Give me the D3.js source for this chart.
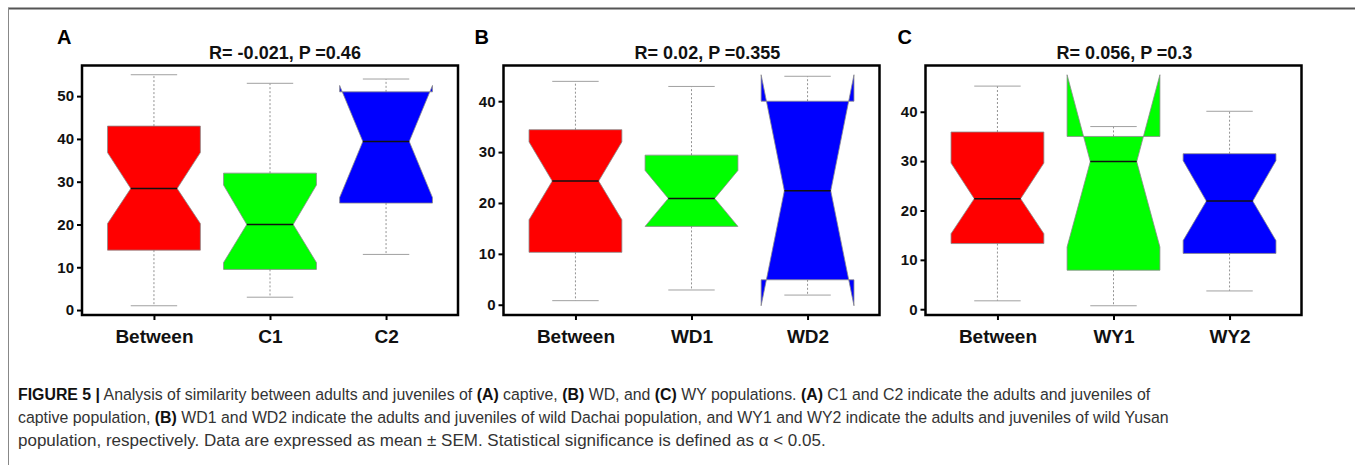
<!DOCTYPE html>
<html>
<head>
<meta charset="utf-8">
<script src="https://cdn.jsdelivr.net/npm/d3@7"></script>
<style>
  body { margin: 0; background: #fff; }
  svg { display: block; }
</style>
</head>
<body>
<div id="chart"></div>
<script>
"use strict";

// Box stats are [whisker low, Q1, median, Q3, whisker high], notches are [low, high]

// (A) captive
const catsA = ["Between", "C1", "C2"];
const boxA = [[1, 14, 28.4, 43, 55], [3, 9.5, 20, 32, 53], [13, 25, 39.4, 51, 54]];
const notchA = [[20.2, 36.8], [11.1, 29.2], [26.3, 52.5]];
const ticksA = [0, 10, 20, 30, 40, 50];

// (B) wild Dachai
const catsB = ["Between", "WD1", "WD2"];
const boxB = [[0.8, 10.3, 24.3, 34.4, 43.9], [2.9, 15.4, 20.9, 29.4, 42.9], [1.9, 4.9, 22.4, 40, 44.9]];
const notchB = [[16.7, 32], [15.4, 26.4], [-0.2, 45.2]];
const ticksB = [0, 10, 20, 30, 40];

// (C) wild Yusan
const catsC = ["Between", "WY1", "WY2"];
const boxC = [[1.7, 13.3, 22.4, 35.9, 45.2], [0.7, 7.9, 29.9, 35, 37], [3.7, 11.3, 21.9, 31.5, 40.1]];
const notchC = [[15.3, 29.6], [12.6, 47.5], [13.9, 30.1]];
const ticksC = [0, 10, 20, 30, 40];

const titles = ["R= -0.021, P =0.46", "R= 0.02, P =0.355", "R= 0.056, P =0.3"];
const letters = ["A", "B", "C"];
const fills = ["#ff0000", "#00ff00", "#0000ff"];

// caption lines, bold parts flagged
const captionLines = [
  [["FIGURE 5 |", true], [" Analysis of similarity between adults and juveniles of ", false], ["(A)", true],
   [" captive, ", false], ["(B)", true], [" WD, and ", false], ["(C)", true], [" WY populations. ", false],
   ["(A)", true], [" C1 and C2 indicate the adults and juveniles of", false]],
  [["captive population, ", false], ["(B)", true],
   [" WD1 and WD2 indicate the adults and juveniles of wild Dachai population, and WY1 and WY2 indicate the adults and juveniles of wild Yusan", false]],
  [["population, respectively. Data are expressed as mean \u00b1 SEM. Statistical significance is defined as \u03b1 < 0.05.", false]]
];

const W = 1355, H = 465;
const plotTop = 65.5, plotBottom = 315, plotW = 376;
const font = "'Liberation Sans', Arial, sans-serif";

let svg = d3.select("#chart").append("svg")
  .attr("width", W)
  .attr("height", H);

// outer frame (top and left edges only)
svg.append("line")
  .attr("x1", 8).attr("x2", W).attr("y1", 8.5).attr("y2", 8.5)
  .attr("stroke", "#555").attr("stroke-width", 2);
svg.append("line")
  .attr("x1", 8.5).attr("x2", 8.5).attr("y1", 8).attr("y2", H)
  .attr("stroke", "#888").attr("stroke-width", 1);

function drawPanel(p) {
  let g = svg.append("g");
  let left = p.left, right = p.left + plotW;

  let x = d3.scaleLinear().domain([0.38, 3.62]).range([left, right]);

  // y range padded by 4% like base R
  let vals = p.box.flat().concat(p.notch.flat());
  let lo = d3.min(vals), hi = d3.max(vals), pad = (hi - lo) * 0.04;
  let y = d3.scaleLinear().domain([lo - pad, hi + pad]).range([plotBottom, plotTop]);

  let halfBox = x(1.4) - x(1);
  let nw = halfBox / 2;
  let capHalf = x(1.2) - x(1);

  p.box.forEach(function(s, i) {
    let cx = x(i + 1);
    let xl = cx - halfBox, xr = cx + halfBox;
    let n = p.notch[i];
    let pts = [
      [xl, y(s[1])], [xr, y(s[1])], [xr, y(n[0])], [xr - nw, y(s[2])], [xr, y(n[1])],
      [xr, y(s[3])], [xl, y(s[3])], [xl, y(n[1])], [xl + nw, y(s[2])], [xl, y(n[0])]
    ];

    // notched box
    g.append("polygon")
      .attr("points", pts.map(d => d.join(",")).join(" "))
      .attr("fill", fills[i])
      .attr("stroke", "#8a8a8a")
      .attr("stroke-width", 0.8);

    // median
    g.append("line")
      .attr("x1", xl + nw).attr("x2", xr - nw)
      .attr("y1", y(s[2])).attr("y2", y(s[2]))
      .attr("stroke", "#111").attr("stroke-width", 1.5);

    // whiskers
    [[s[3], s[4]], [s[1], s[0]]].forEach(function(w) {
      g.append("line")
        .attr("x1", cx).attr("x2", cx)
        .attr("y1", y(w[0])).attr("y2", y(w[1]))
        .attr("stroke", "#777").attr("stroke-width", 0.8)
        .attr("stroke-dasharray", "2,2");
      g.append("line")
        .attr("x1", cx - capHalf).attr("x2", cx + capHalf)
        .attr("y1", y(w[1])).attr("y2", y(w[1]))
        .attr("stroke", "#a0a0a0").attr("stroke-width", 1);
    });
  });

  // plot frame
  g.append("rect")
    .attr("x", left).attr("y", plotTop)
    .attr("width", plotW).attr("height", plotBottom - plotTop)
    .attr("fill", "none")
    .attr("stroke", "#000")
    .attr("stroke-width", 2.5);

  // y axis
  let ya = g.append("g")
    .attr("transform", "translate(" + left + ",0)")
    .call(d3.axisLeft(y).tickValues(p.ticks).tickSize(5).tickPadding(3));
  ya.select(".domain").remove();
  ya.selectAll(".tick line").attr("stroke", "#000").attr("stroke-width", 2);
  ya.selectAll(".tick text")
    .attr("font-family", font).attr("font-size", "15px")
    .attr("font-weight", "bold").attr("fill", "#111");

  // x axis
  let xa = g.append("g")
    .attr("transform", "translate(0," + plotBottom + ")")
    .call(d3.axisBottom(x).tickValues([1, 2, 3]).tickFormat((d, i) => p.cats[i]).tickSize(5).tickPadding(10));
  xa.select(".domain").remove();
  xa.selectAll(".tick line").attr("stroke", "#000").attr("stroke-width", 2);
  xa.selectAll(".tick text")
    .attr("font-family", font).attr("font-size", "19px")
    .attr("font-weight", "bold").attr("fill", "#111");

  // title
  g.append("text")
    .attr("x", left + plotW / 2 + p.titleDx)
    .attr("y", 59)
    .attr("text-anchor", "middle")
    .attr("font-family", font).attr("font-size", "18px").attr("font-weight", "bold")
    .attr("fill", "#111")
    .text(p.title);

  // panel letter
  g.append("text")
    .attr("x", left + p.letterDx)
    .attr("y", 44)
    .attr("font-family", font).attr("font-size", "20px").attr("font-weight", "bold")
    .attr("fill", "#000")
    .text(p.letter);
}

drawPanel({ left: 82, cats: catsA, box: boxA, notch: notchA, ticks: ticksA, title: titles[0], letter: letters[0], titleDx: 15, letterDx: -25 });
drawPanel({ left: 503.5, cats: catsB, box: boxB, notch: notchB, ticks: ticksB, title: titles[1], letter: letters[1], titleDx: 16, letterDx: -29 });
drawPanel({ left: 925.5, cats: catsC, box: boxC, notch: notchC, ticks: ticksC, title: titles[2], letter: letters[2], titleDx: 11, letterDx: -28 });

// caption: lay out each line normally, then squeeze it horizontally
// to the narrow face used in the figure
const capX = 18;
const capY = [400, 423, 446];
const capEnd = [1151, 1170, 826];
captionLines.forEach(function(parts, li) {
  let t = svg.append("text")
    .attr("x", 0)
    .attr("y", 0)
    .attr("font-family", font)
    .attr("font-size", "17px")
    .attr("fill", "#333");
  parts.forEach(function(pt) {
    t.append("tspan")
      .attr("font-weight", pt[1] ? "bold" : "normal")
      .attr("fill", pt[1] ? "#111" : "#333")
      .text(pt[0]);
  });
  let natural = t.node().getComputedTextLength();
  let sx = (capEnd[li] - capX) / natural;
  t.attr("transform", "translate(" + capX + "," + capY[li] + ") scale(" + sx + ",1)");
});
</script>
</body>
</html>
